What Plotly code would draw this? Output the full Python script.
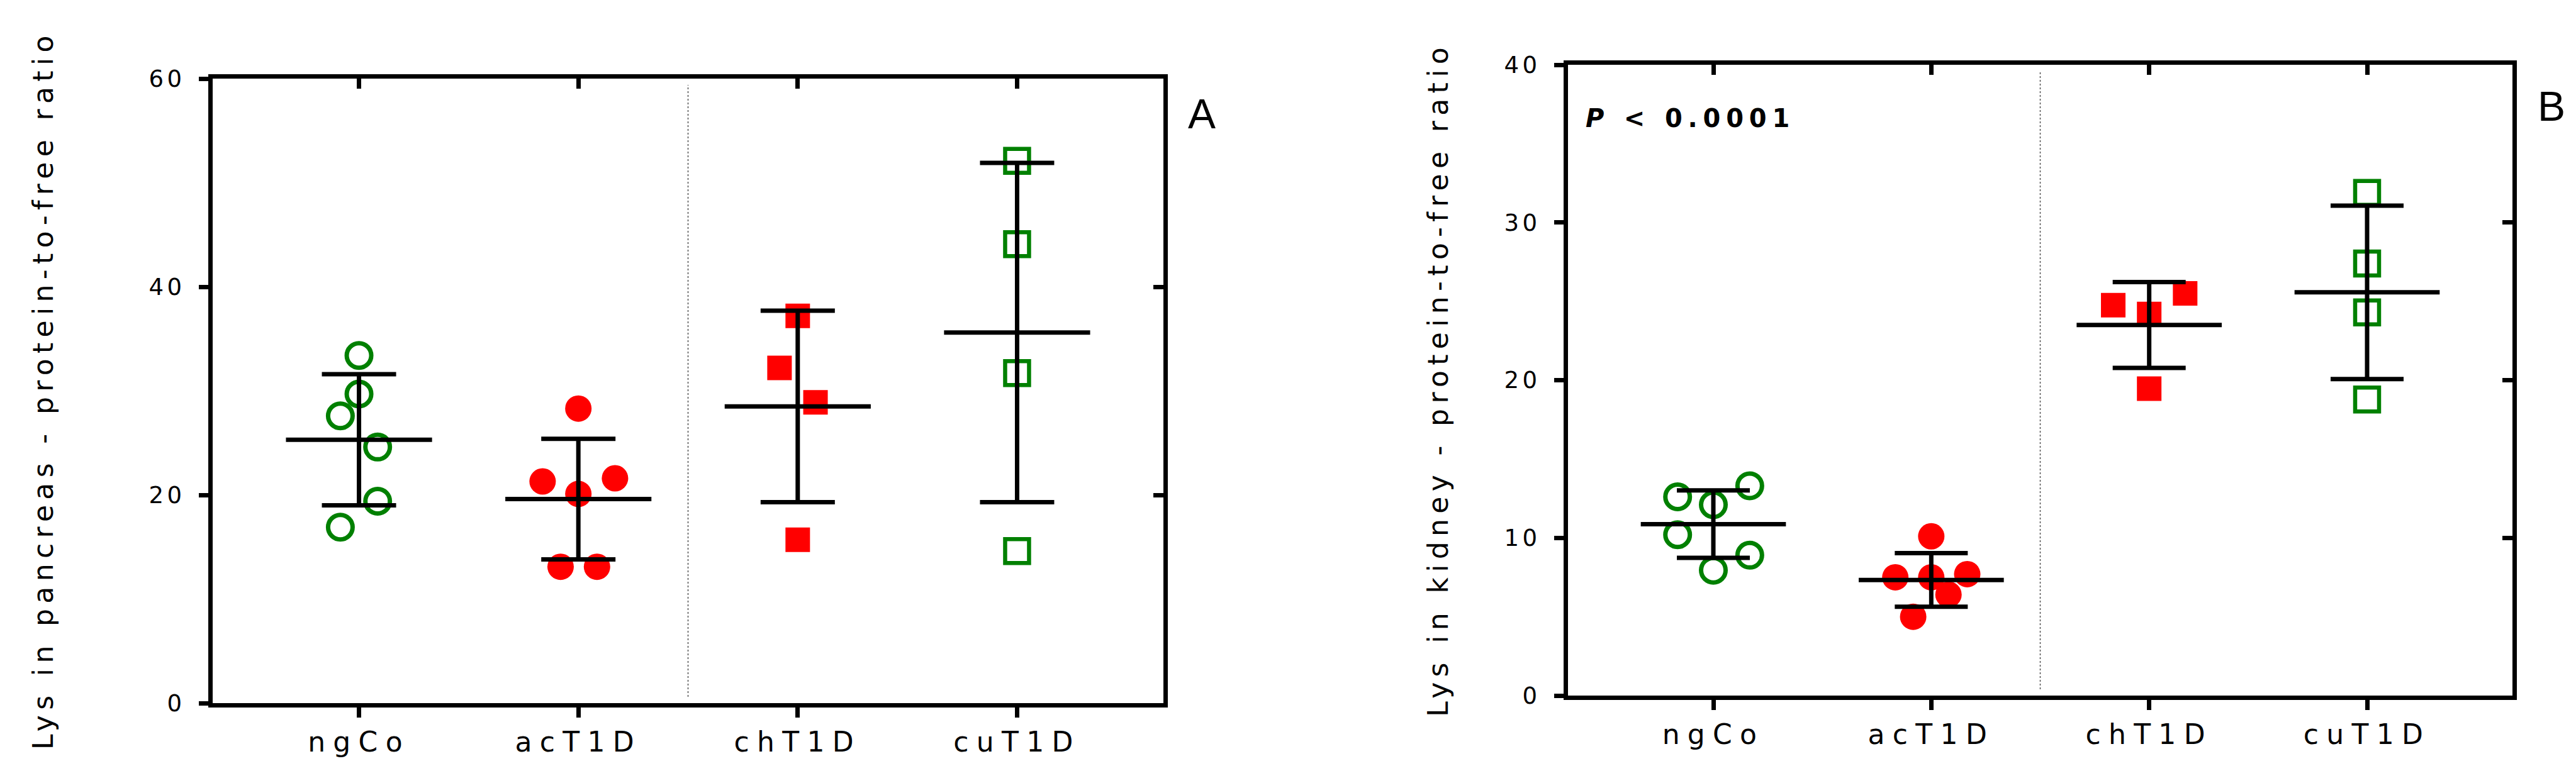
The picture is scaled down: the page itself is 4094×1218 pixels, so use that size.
import plotly.graph_objects as go

categories = ["ngCo", "acT1D", "chT1D", "cuT1D"]

# ---- Panel A: Lys in pancreas ----
a_ngco = [33.4, 29.7, 27.6, 24.6, 19.4, 16.9]
a_ngco_dx = [0.0, 0.0, -0.085, 0.085, 0.085, -0.085]
a_act1d = [28.3, 21.3, 21.6, 20.1, 13.1, 13.1]
a_act1d_dx = [0.0, -0.163, 0.167, 0.0, -0.081, 0.085]
a_cht1d = [37.2, 32.2, 28.9, 15.7]
a_cht1d_dx = [0.0, -0.083, 0.081, 0.0]
a_cut1d = [52.1, 44.1, 31.7, 14.6]
a_cut1d_dx = [0.0, 0.0, 0.0, 0.0]
a_mean = [25.3, 19.6, 28.5, 35.6]
a_sd = [6.3, 5.8, 9.2, 16.3]

# ---- Panel B: Lys in kidney ----
b_ngco = [13.3, 12.6, 12.1, 10.2, 8.9, 7.95]
b_ngco_dx = [0.167, -0.164, 0.0, -0.164, 0.167, 0.0]
b_act1d = [10.1, 7.5, 7.5, 7.7, 6.4, 5.0]
b_act1d_dx = [0.0, -0.165, 0.0, 0.165, 0.079, -0.083]
b_cht1d = [24.76, 25.5, 24.2, 19.46]
b_cht1d_dx = [-0.165, 0.165, 0.0, 0.0]
b_cut1d = [31.87, 27.4, 24.3, 18.77]
b_cut1d_dx = [0.0, 0.0, 0.0, 0.0]
b_mean = [10.87, 7.33, 23.5, 25.57]
b_sd = [2.14, 1.7, 2.72, 5.5]

GREEN = "#008000"
RED = "#FF0000"
FONT = "DejaVu Sans"
LW = 7

styles = [
    dict(symbol="circle-open", color=GREEN, size=39, line=dict(width=7, color=GREEN)),
    dict(symbol="circle", color=RED, size=42),
    dict(symbol="square", color=RED, size=39),
    dict(symbol="square-open", color=GREEN, size=38, line=dict(width=6.5, color=GREEN)),
]

fig = go.Figure()


def add_panel(groups, means, sds, xa, ya, cap):
    for i, (vals, dx) in enumerate(groups):
        fig.add_trace(go.Scatter(
            x=[i + d for d in dx], y=vals, mode="markers",
            marker=styles[i], xaxis=xa, yaxis=ya, showlegend=False,
            name=categories[i]))
    fig.add_trace(go.Scatter(
        x=list(range(len(categories))), y=means, mode="markers",
        marker=dict(size=1, opacity=0),
        error_x=dict(type="constant", value=0.333, width=0, thickness=LW, color="black"),
        error_y=dict(type="data", array=sds, width=cap, thickness=LW, color="black"),
        xaxis=xa, yaxis=ya, showlegend=False))


add_panel([(a_ngco, a_ngco_dx), (a_act1d, a_act1d_dx), (a_cht1d, a_cht1d_dx), (a_cut1d, a_cut1d_dx)],
          a_mean, a_sd, "x", "y", 59)
add_panel([(b_ngco, b_ngco_dx), (b_act1d, b_act1d_dx), (b_cht1d, b_cht1d_dx), (b_cut1d, b_cut1d_dx)],
          b_mean, b_sd, "x2", "y2", 58)

# dummy traces to instantiate mirrored (top/right) axes
for xa, ya in (("x3", "y3"), ("x4", "y4")):
    fig.add_trace(go.Scatter(x=[None], y=[None], xaxis=xa, yaxis=ya,
                             showlegend=False, hoverinfo="skip"))

XR = [-0.667, 3.667]
tickfont = dict(family=FONT, size=37, color="black")
catfont = dict(family=FONT, size=44, color="black")

common_x = dict(range=XR, tickvals=list(range(4)), ticktext=categories,
                showline=True, linewidth=LW, linecolor="black", ticks="outside",
                ticklen=16, tickwidth=LW, tickcolor="black", showgrid=False,
                zeroline=False, tickfont=catfont, ticklabelstandoff=1,
                fixedrange=True, automargin=False)
common_y = dict(showline=True, linewidth=LW, linecolor="black", ticks="outside",
                ticklen=15, tickwidth=LW, tickcolor="black", showgrid=False,
                zeroline=False, tickfont=tickfont, ticklabelstandoff=14,
                fixedrange=True, automargin=False)

domA_x = [330 / 4094, 1841 / 4094]
domA_y = [(1218 - 1110) / 1218, (1218 - 117) / 1218]
domB_x = [2484 / 4094, 3985 / 4094]
domB_y = [(1218 - 1098) / 1218, (1218 - 95) / 1218]

mirror_x = dict(range=XR, tickvals=list(range(4)), showticklabels=False,
                showline=True, linewidth=LW, linecolor="black", ticks="inside",
                ticklen=16, tickwidth=LW, tickcolor="black", showgrid=False,
                zeroline=False, side="top", fixedrange=True, automargin=False)
mirror_y = dict(showticklabels=False, showline=True, linewidth=LW, linecolor="black",
                ticks="inside", ticklen=16, tickwidth=LW, tickcolor="black",
                showgrid=False, zeroline=False, side="right", fixedrange=True,
                automargin=False)

fig.update_layout(
    width=4094, height=1218,
    margin=dict(l=0, r=0, t=0, b=0, pad=0, autoexpand=False),
    paper_bgcolor="white", plot_bgcolor="white",
    font=dict(family=FONT, color="black"),
    xaxis=dict(common_x, domain=domA_x, anchor="y"),
    yaxis=dict(common_y, domain=domA_y, anchor="x", range=[0, 60], tickvals=[0, 20, 40, 60]),
    xaxis2=dict(common_x, domain=domB_x, anchor="y2"),
    yaxis2=dict(common_y, domain=domB_y, anchor="x2", range=[0, 40], tickvals=[0, 10, 20, 30, 40]),
    xaxis3=dict(mirror_x, overlaying="x", anchor="y3"),
    yaxis3=dict(mirror_y, overlaying="y", anchor="x3", range=[0, 60], tickvals=[0, 20, 40, 60]),
    xaxis4=dict(mirror_x, overlaying="x2", anchor="y4"),
    yaxis4=dict(mirror_y, overlaying="y2", anchor="x4", range=[0, 40], tickvals=[0, 10, 20, 30, 40]),
    shapes=[
        dict(type="line", xref="x", yref="y domain", x0=1.5, x1=1.5, y0=0.01, y1=0.99,
             line=dict(color="#555555", width=1.5, dash="dot")),
        dict(type="line", xref="x2", yref="y2 domain", x0=1.5, x1=1.5, y0=0.01, y1=0.99,
             line=dict(color="#555555", width=1.5, dash="dot")),
    ],
    annotations=[
        dict(text="Lys in pancreas - protein-to-free ratio", textangle=-90,
             xref="paper", yref="paper", x=60 / 4094, y=(1218 - 612) / 1218,
             xanchor="center", yanchor="middle", showarrow=False,
             font=dict(family=FONT, size=44, color="black")),
        dict(text="Lys in kidney - protein-to-free ratio", textangle=-90,
             xref="paper", yref="paper", x=2277 / 4094, y=(1218 - 596) / 1218,
             xanchor="center", yanchor="middle", showarrow=False,
             font=dict(family=FONT, size=44, color="black")),
        dict(text="A", xref="paper", yref="paper", x=1902 / 4094, y=(1218 - 173) / 1218,
             xanchor="center", yanchor="middle", showarrow=False,
             font=dict(family="Liberation Sans", size=66, color="black")),
        dict(text="B", xref="paper", yref="paper", x=4047 / 4094, y=(1218 - 161) / 1218,
             xanchor="center", yanchor="middle", showarrow=False,
             font=dict(family="Liberation Sans", size=66, color="black")),
        dict(text="<b><i>P</i> &lt; 0.0001</b>", xref="paper", yref="paper",
             x=2554 / 4094, y=(1218 - 180) / 1218, xanchor="left", yanchor="middle",
             showarrow=False, font=dict(family=FONT, size=40, color="black")),
    ],
)

# The reference typesets its labels with wide letter-spacing; apply it as CSS.
post = """
var gd = document.getElementById('{plot_id}');
function sp(sel, v) { gd.querySelectorAll(sel).forEach(function (t) { t.style.letterSpacing = v; }); }
sp('.xtick text, .x2tick text', '0.28em');
sp('.ytick text, .y2tick text', '0.15em');
sp('g.annotation[data-index="0"] text', '0.19em');
sp('g.annotation[data-index="1"] text', '0.19em');
sp('g.annotation[data-index="4"] text', '0.22em');
"""

fig.write_html("out.html", post_script=post)
